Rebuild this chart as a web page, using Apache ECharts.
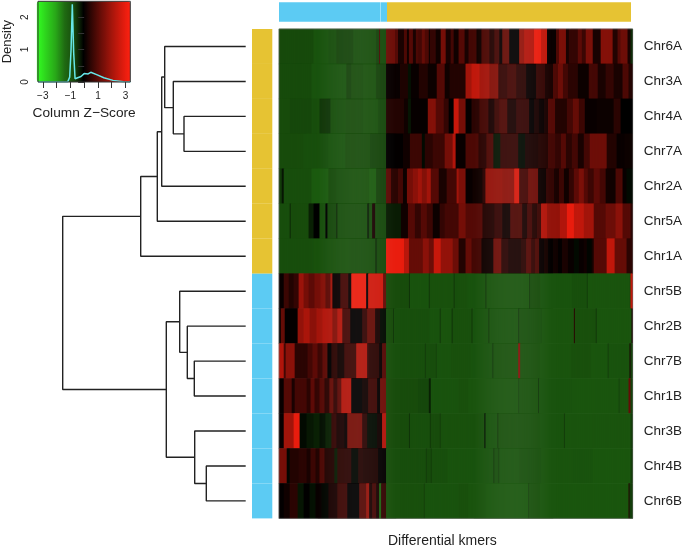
<!DOCTYPE html>
<html>
<head>
<meta charset="utf-8">
<style>html,body{margin:0;padding:0;background:#fff}#c{width:685px;height:549px;filter:blur(.35px)}</style>
<script src="https://cdn.jsdelivr.net/npm/echarts@6/dist/echarts.min.js"></script>
</head>
<body>
<div id="c"></div>
<script>
// Row labels, top to bottom
const rowLabels = ['Chr6A','Chr3A','Chr4A','Chr7A','Chr2A','Chr5A','Chr1A','Chr5B','Chr2B','Chr7B','Chr1B','Chr3B','Chr4B','Chr6B'];
const rowGroups = ['A','A','A','A','A','A','A','B','B','B','B','B','B','B'];
const axisTitles = {key:'Column Z\u2212Score', density:'Density', kmers:'Differential kmers'};
const groupColors = {A:'#e6c333', B:'#5ccbf3', C:'#9fe2f9'};
// Column side bar as runs: [number of columns, group]
const columnGroups = [[101,'B'],[1,'C'],[6,'B'],[244,'A']];
const columnCount = 356;

// Each row is a list of strips: [number of columns, z-score]
const chr6A = [[35,-.68],[15,-.85],[8,-.75],[17,-.62],[23,-.75],[3,-.6],[1,.9],[6,-.7],
 [9,1.3],[3,1.0],[6,.3],[3,.9],[2,.2],[4,1.0],[3,.3],[2,.9],[4,.8],[3,1.2],[4,.9],[1,.1],[6,.6],[5,.2],[5,1.4],[5,.3],[3,.8],[5,.2],
 [6,1.0],[4,.3],[8,.8],[5,.2],[8,.9],[5,.4],[5,.8],[3,.1],[7,1.2],[10,.05],[5,1.8],[10,2.2],[7,3.0],[6,2.4],[9,.1],[3,.9],[7,1.5],[3,.3],[5,.6],[4,.6],[4,1.1],[4,.7],[7,1.5],[8,.3],[12,1.6],[5,.4],[3,1.0],[7,1.3],[3,.3],[2,-.4]];
const chr3A = [[33,-.7],[35,-.85],[5,-.6],[12,-.72],[13,-.8],[10,-.6],
 [14,.1],[8,.35],[3,-.15],[8,.1],[9,.4],[9,.15],[8,1.0],[5,.2],[9,.4],
 [7,.4],[6,2.0],[8,2.4],[10,2.0],[9,1.6],[9,.6],[9,.8],[10,.5],[10,.1],[9,.6],[8,.3],[5,.9],[5,1.3],[5,.8],[10,.5],[11,.15],[9,.8],[8,.3],[8,.6],[9,.3],[6,.9],[4,.4]];
const chr4A = [[11,-.72],[22,-.65],[8,-.75],[11,-.5],[16,-.78],[17,-.72],[15,-.8],[8,-.65],
 [18,.4],[4,.2],[3,-.2],[17,.08],[8,1.6],[8,1.0],[5,.6],[5,0],[5,2.5],
 [7,1.4],[6,.05],[8,.5],[9,.8],[6,.3],[5,.7],[8,.9],[9,.3],[13,.6],[5,.05],[5,.3],[5,.1],[4,.3],[7,1.0],[12,.4],[6,.8],[6,1.2],[6,.7],[12,.1],[17,.15],[7,.5],[12,0]];
const chr7A = [[25,-.72],[25,-.78],[17,-.85],[25,-.72],[16,-.62],
 [17,.03],[7,.2],[12,.7],[3,-.1],[8,.5],[12,.7],[8,1.4],[3,2.2],[3,.1],
 [7,.1],[13,.9],[8,.5],[7,.9],[7,-.2],[18,.6],[7,-.1],[13,.3],[10,.4],[7,.8],[6,.6],[5,1.0],[6,.5],[6,.8],[6,.3],[6,.8],[17,1.3],[10,.4],[8,.1],[8,.15]];
const chr2A = [[3,-.55],[2,-.2],[28,-.75],[17,-1.0],[8,-.7],[13,-.78],[20,-.82],[7,-1.0],[10,-.6],
 [5,1.1],[7,.5],[5,.8],[4,.15],[6,1.4],[5,1.7],[4,2.0],[5,1.6],[4,2.0],[8,1.0],[8,.3],[10,.8],[2,2.0],
 [7,1.5],[7,.1],[10,.2],[3,.5],[17,1.8],[12,1.7],[5,2.7],[9,.8],[10,1.3],[8,.15],[8,.6],[5,.3],[5,.7],[5,.2],[5,.6],[5,1.1],[5,1.5],[4,1.0],[6,.7],[6,1.1],[6,.8],[10,.2],[7,.9],[4,.1],[6,-.1]];
const chr5A = [[11,-.75],[1,-.35],[18,-.72],[5,-.3],[6,0],[6,-.75],[2,0],[9,-.65],[1,-.3],[30,-.75],[2,-.3],[3,-.7],[3,.3],[11,-.65],
 [15,-.25],[7,.2],[7,1.0],[6,.6],[6,1.0],[6,.7],[7,.15],[5,.6],[14,.8],
 [7,1.4],[17,1.0],[12,.4],[8,.6],[8,.2],[12,.9],[5,.3],[5,.8],[5,.4],[4,.7],[6,2.2],[13,1.8],[7,2.2],[7,3.0],[10,2.4],[10,2.0],[12,1.0],[10,1.3],[7,1.7],[8,1.0],[2,.5]];
const chr1A = [[35,-.75],[37,-.82],[25,-.75],[2,-.45],[9,-.68],
 [18,3.0],[5,2.3],[8,1.2],[6,1.2],[6,1.7],[5,1.3],[7,2.5],[12,1.8],[6,1.3],
 [7,.4],[6,1.2],[10,.8],[12,.2],[8,1.3],[7,.5],[13,.3],[5,.5],[5,1.0],[4,.6],[4,.9],
 [5,.1],[4,.25],[5,.05],[5,.2],[4,.05],[6,.3],[6,.1],[5,-.1],[5,.1],[3,.2],[5,-.05],[2,.25],
 [13,1.0],[8,2.4],[12,1.2],[6,.5]];
const chr5B = [[5,.1],[5,.7],[5,.4],[5,.6],[5,1.9],[5,1.4],[6,1.1],[6,1.4],[5,1.6],[5,1.1],[2,2.0],[8,.1],[8,.8],[3,.1],[15,3.0],[2,.1],[15,2.6],[3,1.2],
 [23,-.72],[1,-.45],[19,-.85],[1,-.5],[24,-.82],[1,-.5],[4,-.78],
 [9,-.8],[18,-.85],[1,-.5],[43,-.88],[1,-.5],[10,-.72],[32,-.85],[15,-.78],[1,-.55],[42,-.88],[1,-.7],[2,2.4]];
const chr2B = [[2,0],[4,1.2],[13,.05],[6,1.8],[6,2.1],[7,1.7],[6,2.0],[10,2.2],[5,1.6],[5,2.2],[8,.8],[12,.05],[5,.6],[8,1.2],[5,.3],[6,-.1],
 [7,-.72],[1,-.5],[36,-.78],[10,-.85],[1,-.5],[11,-.88],[1,-.45],[6,-.8],
 [13,-.8],[1,-.5],[16,-.85],[1,-.5],[29,-.85],[1,-.5],[23,-.78],[32,-.88],[1,.5],[21,-.8],[1,-.5],[35,-.9],[1,.3]];
const chr7B = [[5,2.2],[2,.8],[9,1.7],[13,.5],[5,.8],[5,1.1],[5,.7],[5,1.1],[4,0],[6,.5],[7,.2],[12,.7],[11,2.2],[2,.6],[10,.5],[3,.1],[4,1.0],
 [39,-.78],[1,-.55],[10,-.75],[1,-.6],[14,-.85],[8,-.8],
 [12,-.8],[22,-.85],[1,-.5],[25,-.82],[2,1.6],[20,-.8],[31,-.88],[20,-.8],[17,-.9],[1,-.55],[21,-.85],[1,.3],[2,-.6]];
const chr1B = [[5,.1],[8,1.0],[3,.3],[12,.8],[4,.5],[4,1.1],[5,.6],[5,1.0],[5,.5],[4,1.2],[4,.6],[4,1.1],[10,2.2],[11,.02],[6,.2],[9,.7],[3,.05],[6,1.3],
 [32,-.72],[11,-.65],[2,-.3],[28,-.85],
 [10,-.8],[50,-.88],[1,-.6],[19,-.82],[1,-.5],[33,-.85],[47,-.9],[1,-.6],[9,-.88],[2,1.2],[2,-.6]];
const chr3B = [[5,.1],[10,2.0],[6,3.0],[7,-.1],[7,-.22],[6,-.3],[6,-.15],[6,-.3],[5,.6],[8,.3],[3,.1],[15,1.4],[5,.5],[10,-.1],[5,.2],[4,2.2],
 [23,-.72],[1,-.45],[20,-.78],[1,-.5],[9,-.72],[1,-.55],[18,-.82],
 [26,-.82],[1,-.05],[12,-.85],[1,-.5],[42,-.8],[24,-.85],[1,-.55],[66,-.88],[2,-.55]];
const chr4B = [[8,1.4],[3,-.05],[9,.4],[8,.5],[4,.3],[5,.7],[4,.4],[5,.9],[10,.4],[3,-.25],[14,.5],[7,-.05],[5,.4],[15,.35],[8,.05],
 [40,-.75],[1,-.55],[4,-.7],[1,-.55],[16,-.78],[11,-.85],
 [35,-.85],[1,-.5],[4,-.75],[1,-.55],[20,-.85],[22,-.78],[32,-.88],[20,-.85],[38,-.92],[2,-.55]];
const chr6B = [[5,.05],[6,.2],[8,.5],[6,-.2],[6,.02],[6,-.15],[6,.1],[7,-.05],[9,.3],[10,.7],[12,.02],[7,1.0],[3,1.8],[3,.3],[4,.8],[3,.3],[2,-1.2],[5,.6],
 [38,-.8],[1,-.6],[34,-.85],
 [10,-.8],[18,-.88],[42,-.92],[1,-.6],[11,-.8],[32,-.9],[57,-.92],[1,.4],[3,-.55]];
const rowStrips = [chr6A,chr3A,chr4A,chr7A,chr2A,chr5A,chr1A,chr5B,chr2B,chr7B,chr1B,chr3B,chr4B,chr6B];

// Hierarchical clustering: negative = leaf (row index + 1), positive = earlier merge number
const mergeLeft   = [-3,-2,-1, 3, 4, 5,-10,-9,-8,-13,-12, 9, 6];
const mergeRight  = [-4, 1, 2,-5,-6,-7,-11, 7, 8,-14, 10,11,12];
const mergeHeight = [61.7,72.4,81,84,88.4,105,51.4,58.4,66,39.4,51,79.4,183];

// Colour key
const keyColors = ['#33ff22','#2dd21c','#28a818','#1f6a12','#174a0c','#000000','#3a0704','#700e08','#a3150b','#d41a0d','#ff2110'];
const keyTicksX = [-3,-2,-1,0,1,2,3];
const keyLabelsX = [-3,-1,1,3];
const keyTicksY = [0,.5,1,1.5,2];
const keyLabelsY = [0,1,2];
const densityZ = [-3.34,-1.2,-1.12,-1.05,-.95,-.86,-.76,-.66,-.52,-.23,0,.29,.48,.95,1.43,2.1,2.85,3.36];
const densityY = [0,0,.02,.15,1,2.4,.9,.1,.05,.17,.26,.25,.3,.22,.13,.05,.01,0];

const colNames = Array.from({length:columnCount},(_,i)=>String(i));
const heatData = [];
rowStrips.forEach((strips,r)=>{
  let c=0;
  strips.forEach(([w,z])=>{ for(let i=0;i<w;i++){ if(c<columnCount) heatData.push([c,r,z]); c++; } });
});
const colBarData = []; { let c=0; columnGroups.forEach(([w,g])=>{ colBarData.push([c,c+w,g]); c+=w; }); }

// dendrogram from merges
const leafPos = i => i + 0.5;
const nodes = {};
const dendro = [];
function node(id){ return id<0 ? {h:0,y:leafPos(-id-1)} : nodes[id]; }
mergeHeight.forEach((h,i)=>{
  const a=node(mergeLeft[i]), b=node(mergeRight[i]);
  dendro.push([a.h,a.y],[h,a.y],[h,b.y],[b.h,b.y],'-');
  nodes[i+1]={h:h,y:(a.y+b.y)/2};
});

const FONT='"Liberation Sans",Arial,sans-serif';
const hidden={show:false};
const chart=echarts.init(document.getElementById('c'),null,{renderer:'canvas'});
chart.setOption({
  animation:false,
  backgroundColor:'#fff',
  textStyle:{fontFamily:FONT},
  visualMap:{
    type:'continuous',seriesIndex:0,dimension:2,min:-3.35,max:3.35,
    orient:'horizontal',left:36.7,top:1.3,itemWidth:80.7,itemHeight:93.6,padding:0,
    text:null,calculable:false,realtime:false,hoverLink:false,z:1,
    inRange:{color:keyColors},textStyle:{fontSize:1,color:'rgba(0,0,0,0)'}
  },
  grid:[
    {left:279,top:29,width:356,height:489.4,show:true,borderColor:'rgba(110,110,110,.55)',borderWidth:1,z:5,backgroundColor:'transparent'}, // heatmap
    {left:279,top:2.3,width:356,height:19.4},                     // column bar
    {left:252,top:29,width:20.3,height:489.4},                    // row bar
    {left:62.7,top:29,width:183,height:489.4},                    // dendrogram
    {left:36.7,top:1.3,width:93.6,height:80.7,show:true,borderColor:'#333',borderWidth:1,z:5,backgroundColor:'transparent'} // key
  ],
  xAxis:[
    {gridIndex:0,type:'category',data:colNames,show:false},
    {gridIndex:1,type:'value',min:0,max:columnCount,show:false},
    {gridIndex:2,type:'value',min:0,max:1,show:false},
    {gridIndex:3,type:'value',min:0,max:183,inverse:true,show:false},
    {gridIndex:4,type:'value',min:-3.35,max:3.35,z:6,
      axisLine:hidden,splitLine:hidden,
      axisTick:{show:true,length:6,customValues:keyTicksX,lineStyle:{color:'#333'}},
      axisLabel:{show:true,customValues:keyLabelsX,fontSize:10,color:'#222',margin:9,
        formatter:v=>String(v).replace('-','\u2212'),hideOverlap:false},
      name:axisTitles.key,nameLocation:'middle',nameGap:24,
      nameTextStyle:{fontSize:13.7,color:'#222',fontFamily:FONT}}
  ],
  yAxis:[
    {gridIndex:0,type:'category',data:rowLabels,inverse:true,position:'right',
      axisLine:hidden,axisTick:hidden,splitLine:hidden,
      axisLabel:{show:true,fontSize:13.5,color:'#222',margin:11,interval:0,fontFamily:FONT,padding:[4,0,0,0]}},
    {gridIndex:1,type:'value',min:0,max:1,show:false},
    {gridIndex:2,type:'category',data:rowLabels,inverse:true,show:false},
    {gridIndex:3,type:'value',min:0,max:14,inverse:true,show:false},
    {gridIndex:4,type:'value',min:0,max:2.49,z:6,
      axisLine:hidden,splitLine:hidden,
      axisTick:{show:true,length:6,customValues:keyTicksY,lineStyle:{color:'#333'}},
      axisLabel:{show:true,customValues:keyLabelsY,fontSize:10,color:'#222',margin:13,rotate:90,hideOverlap:false,verticalAlign:'middle'},
      name:axisTitles.density,nameLocation:'middle',nameGap:24,
      nameTextStyle:{fontSize:13,color:'#222',fontFamily:FONT}}
  ],
  graphic:[{type:'text',left:388,top:534,silent:true,
    style:{text:axisTitles.kmers,fontSize:14,fontFamily:FONT,fill:'#222'}}],
  series:[
    {type:'heatmap',xAxisIndex:0,yAxisIndex:0,data:heatData,silent:true,progressive:0,
      emphasis:{disabled:true}},
    {type:'custom',xAxisIndex:1,yAxisIndex:1,silent:true,data:colBarData,encode:{x:[0,1]},
      renderItem:(p,api)=>{
        const a=api.coord([api.value(0),1]),b=api.coord([api.value(1),0]);
        const g=columnGroups[p.dataIndex][1];
        return {type:'rect',shape:{x:a[0],y:a[1],width:b[0]-a[0],height:b[1]-a[1]},style:{fill:groupColors[g]}};
      }},
    {type:'custom',xAxisIndex:2,yAxisIndex:2,silent:true,data:rowGroups.map((g,i)=>[0,i]),encode:{y:1},
      renderItem:(p,api)=>{
        const s=api.size([1,1]),c=api.coord([0,api.value(1)]);
        return {type:'rect',shape:{x:c[0],y:c[1]-s[1]/2,width:s[0],height:s[1]},style:{fill:groupColors[rowGroups[p.dataIndex]]}};
      }},
    {type:'line',xAxisIndex:3,yAxisIndex:3,silent:true,data:dendro,symbol:'none',connectNulls:false,
      lineStyle:{color:'#222',width:1.4}},
    {type:'line',xAxisIndex:4,yAxisIndex:4,silent:true,symbol:'none',z:4,
      data:densityZ.map((z,i)=>[z,densityY[i]]),lineStyle:{color:'#66e6e8',width:1.5}}
  ]
});
</script>
</body>
</html>
